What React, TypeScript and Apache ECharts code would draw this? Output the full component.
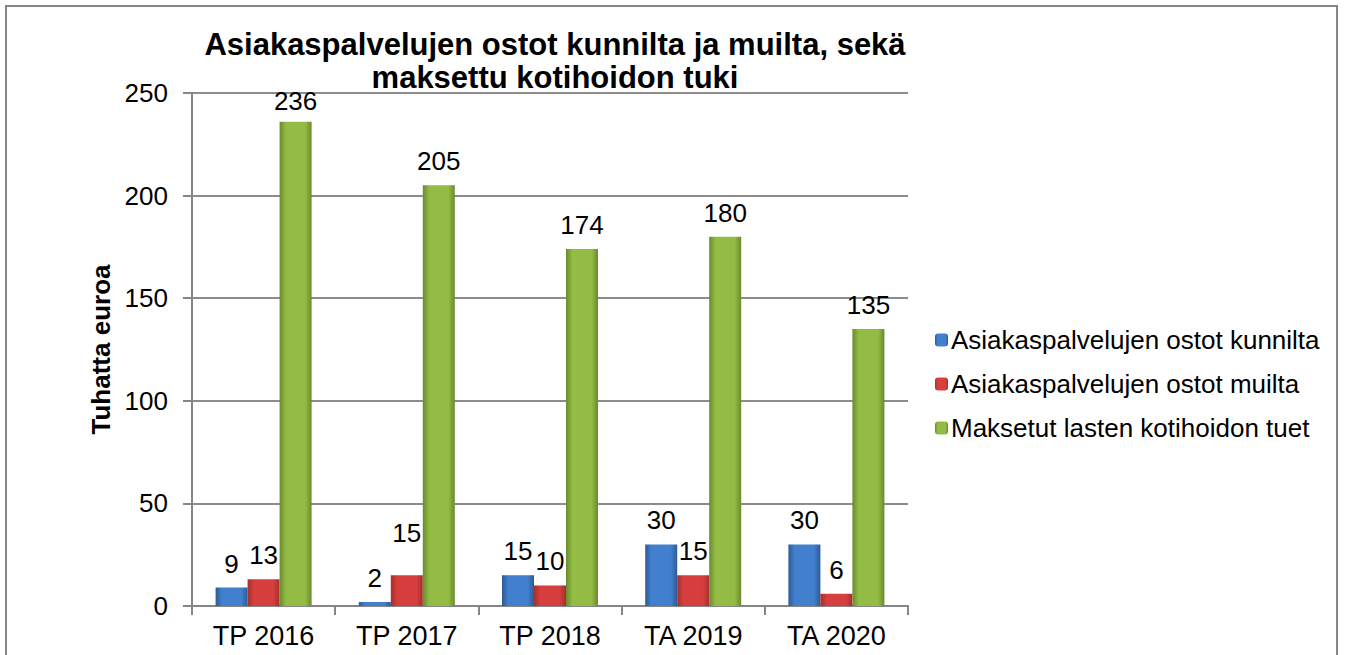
import React, { useEffect, useRef } from "react";
import * as echarts from "echarts";

const categories = ["TP 2016", "TP 2017", "TP 2018", "TA 2019", "TA 2020"];
const seriesNames = [
  "Asiakaspalvelujen ostot kunnilta",
  "Asiakaspalvelujen ostot muilta",
  "Maksetut lasten kotihoidon tuet",
];
const kunnilta = [9, 2, 15, 30, 30];
const muilta = [13, 15, 10, 15, 6];
const kotihoito = [236, 205, 174, 180, 135];
const titleText = "Asiakaspalvelujen ostot kunnilta ja muilta, sekä\nmaksettu kotihoidon tuki";
const yAxisTitle = "Tuhatta euroa";

const FONT = "'Liberation Sans', Arial, sans-serif";

function grad(edge: string, mid: string) {
  return new echarts.graphic.LinearGradient(0, 0, 1, 0, [
    { offset: 0, color: edge },
    { offset: 0.2, color: mid },
    { offset: 0.8, color: mid },
    { offset: 1, color: edge },
  ]);
}

export default function App() {
  const ref = useRef<HTMLDivElement>(null);
  useEffect(() => {
    if (!ref.current) return;
    const chart = echarts.init(ref.current, undefined, { renderer: "svg" });
    const label = {
      show: true,
      position: "top",
      distance: 11,
      fontSize: 26,
      lineHeight: 26,
      color: "#000",
      fontFamily: FONT,
    };
    const colors = [
      grad("#2D5A96", "#4280CE"),
      grad("#A52F2F", "#D63F3D"),
      grad("#6A8A2C", "#92BC44"),
    ];
    const values = [kunnilta, muilta, kotihoito];
    chart.setOption({
      animation: false,
      backgroundColor: "#fff",
      textStyle: { fontFamily: FONT },
      graphic: [
        {
          type: "rect",
          shape: { x: 6, y: 6, width: 1331, height: 670 },
          style: { fill: "none", stroke: "#868686", lineWidth: 2 },
          silent: true,
        },
        {
          type: "text",
          x: 555,
          y: 28,
          style: {
            text: titleText,
            fontSize: 31,
            fontWeight: "bold",
            fontFamily: FONT,
            fill: "#000",
            align: "center",
            lineHeight: 33,
          },
        },
      ],
      legend: {
        orient: "vertical",
        left: 930,
        top: 322,
        itemWidth: 13,
        itemHeight: 13,
        itemGap: 18,
        data: seriesNames,
        textStyle: { fontSize: 26, color: "#000", fontFamily: FONT, lineHeight: 26, padding: [0, 0, 0, -2] },
      },
      grid: { left: 192, right: 438, top: 93, bottom: 49, containLabel: false },
      xAxis: {
        type: "category",
        data: categories,
        axisLine: { lineStyle: { color: "#868686", width: 2 } },
        axisTick: { show: true, length: 9, alignWithLabel: false, lineStyle: { color: "#868686", width: 2 } },
        axisLabel: { fontSize: 27, lineHeight: 27, color: "#000", margin: 16, fontFamily: FONT },
      },
      yAxis: {
        type: "value",
        min: 0,
        max: 250,
        interval: 50,
        name: yAxisTitle,
        nameLocation: "middle",
        nameGap: 77,
        nameRotate: 90,
        nameTextStyle: { fontSize: 26, fontWeight: "bold", color: "#000", fontFamily: FONT },
        axisLine: { show: true, lineStyle: { color: "#868686", width: 2 } },
        axisTick: { show: true, length: 9, lineStyle: { color: "#868686", width: 2 } },
        axisLabel: { fontSize: 26, color: "#000", margin: 24, fontFamily: FONT },
        splitLine: { lineStyle: { color: "#8c8c8c", width: 2 } },
      },
      series: seriesNames.map((name, si) => ({
        name,
        type: "bar",
        barWidth: 32,
        barGap: "0%",
        itemStyle: { color: colors[si] },
        label,
        data: values[si].map((v, i) =>
          si === 1 && i === 1
            ? { value: v, label: { distance: 29 } }
            : si === 2 && i === 0
            ? { value: v, label: { distance: 8 } }
            : v
        ),
      })),
    });
    return () => chart.dispose();
  }, []);
  return (
    <div
      ref={ref}
      style={{ position: "fixed", left: 0, top: 0, width: 1346, height: 655 }}
    />
  );
}
